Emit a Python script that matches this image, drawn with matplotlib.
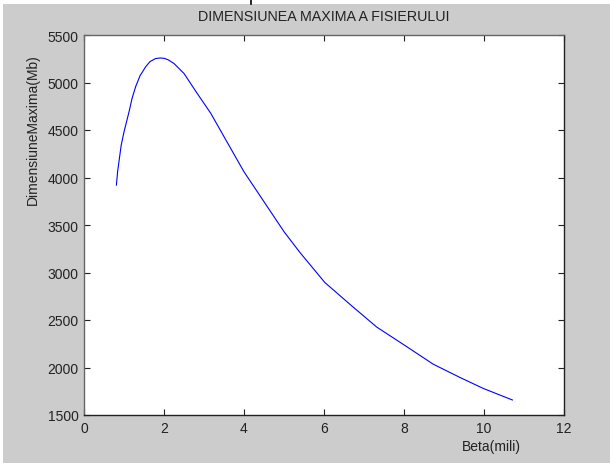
import matplotlib
matplotlib.use('Agg')
import matplotlib.pyplot as plt
from matplotlib.patches import Rectangle
from matplotlib.lines import Line2D

plt.rcParams['font.family'] = ['Liberation Sans', 'DejaVu Sans']

# valori
beta = [0.81, 0.84, 0.875, 0.93, 1.0, 1.125, 1.2, 1.29, 1.4, 1.54, 1.65, 1.79, 1.9,
        2.0, 2.1, 2.25, 2.5, 2.83, 3.17, 3.5, 4.0, 4.5, 5.0, 5.4, 6.02, 6.69,
        7.32, 8.03, 8.73, 9.4, 9.98, 10.71]
dim_max = [3920, 4060, 4170, 4340, 4480, 4690, 4830, 4955, 5070, 5165, 5220, 5252, 5258,
           5255, 5240, 5200, 5095, 4885, 4675, 4430, 4060, 3745, 3430, 3210, 2895, 2650,
           2425, 2230, 2035, 1895, 1780, 1658]

x_ticks = [0, 2, 4, 6, 8, 10, 12]
y_ticks = [1500, 2000, 2500, 3000, 3500, 4000, 4500, 5000, 5500]

W, H = 610, 464
fig = plt.figure(figsize=(W / 100, H / 100), dpi=100, facecolor='white')
# fundal gri (stil matlab), cu o margine alba sus si in stanga
fig.patches.append(Rectangle((3 / W, 0), 1, 1 - 5 / H, transform=fig.transFigure,
                             facecolor='#cccccc', edgecolor='none', zorder=-10))
fig.lines.append(Line2D([251 / W, 251 / W], [1 - 5 / H, 1], transform=fig.transFigure,
                        color='black', lw=1.2))

ax = fig.add_axes([84 / W, 1 - 416 / H, 480 / W, 380 / H])
ax.set_facecolor('white')
ax.plot(beta, dim_max, color='#0000ff', lw=0.8)

ax.set_xlim(0, 12)
ax.set_ylim(1500, 5500)
ax.set_xticks(x_ticks)
ax.set_yticks(y_ticks)
ax.tick_params(direction='in', length=4, width=0.8, top=True, right=True,
               labelsize=10, labelcolor='#222222', color='#222222', pad=4)

for s in ['left', 'top']:
    ax.spines[s].set_color('#666666')
for s in ['right', 'bottom']:
    ax.spines[s].set_color('#222222')
for s in ax.spines.values():
    s.set_linewidth(1.0)

fig.text(324 / W, 1 - 17 / H, 'DIMENSIUNEA MAXIMA A FISIERULUI', ha='center',
         va='center', fontsize=10.3, color='#222222')
ax.set_xlabel('Beta(mili)', fontsize=10, color='#222222')
ax.xaxis.set_label_coords(0.849, -0.081)
ax.xaxis.label.set_va('center')
ax.set_ylabel('DimensiuneMaxima(Mb)', fontsize=10, color='#222222')
ax.yaxis.set_label_coords(-0.106, 0.753)
ax.yaxis.label.set_va('center')

fig.savefig('out.png', dpi=100, facecolor=fig.get_facecolor())
